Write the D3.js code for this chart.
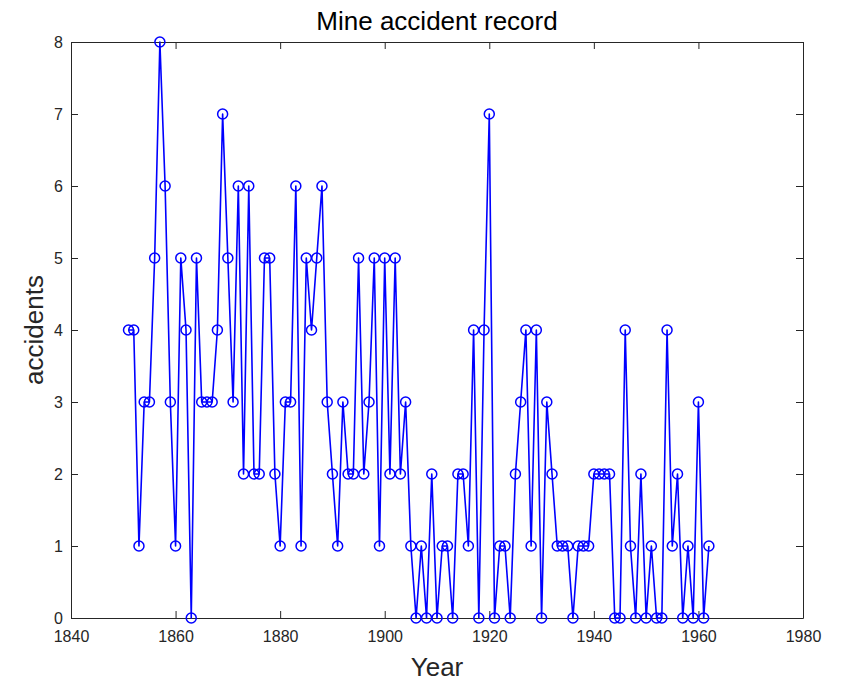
<!DOCTYPE html>
<html>
<head>
<meta charset="utf-8">
<script src="https://cdn.jsdelivr.net/npm/d3@7"></script>
<style>
    body { margin: 0; background: #fff; }
    svg text { font-family: "Liberation Sans", Arial, Helvetica, sans-serif; }
</style>
</head>
<body>
<svg id="chart" width="853" height="682"></svg>
<script>
// yearly counts, 1851..1962
var firstYear = 1851;
var accidents = [
    4, 4, 1, 3, 3, 5, 8, 6, 3, 1,   // 1851-1860
    5, 4, 0, 5, 3, 3, 3, 4, 7, 5,   // 1861-1870
    3, 6, 2, 6, 2, 2, 5, 5, 2, 1,   // 1871-1880
    3, 3, 6, 1, 5, 4, 5, 6, 3, 2,   // 1881-1890
    1, 3, 2, 2, 5, 2, 3, 5, 1, 5,   // 1891-1900
    2, 5, 2, 3, 1, 0, 1, 0, 2, 0,   // 1901-1910
    1, 1, 0, 2, 2, 1, 4, 0, 4, 7,   // 1911-1920
    0, 1, 1, 0, 2, 3, 4, 1, 4, 0,   // 1921-1930
    3, 2, 1, 1, 1, 0, 1, 1, 1, 2,   // 1931-1940
    2, 2, 2, 0, 0, 4, 1, 0, 2, 0,   // 1941-1950
    1, 0, 0, 4, 1, 2, 0, 1, 0, 3,   // 1951-1960
    0, 1                            // 1961-1962
];
var years = accidents.map(function (d, i) { return firstYear + i; });

var xTicks = [1840, 1860, 1880, 1900, 1920, 1940, 1960, 1980];
var yTicks = [0, 1, 2, 3, 4, 5, 6, 7, 8];

var titleText = "Mine accident record";
var xLabel = "Year";
var yLabel = "accidents";

var margin = {left: 71, top: 42, right: 50, bottom: 64};
var width = 853 - margin.left - margin.right;
var height = 682 - margin.top - margin.bottom;
var axisColor = "#262626";

var svg = d3.select("#chart");
var g = svg.append("g").attr("transform", "translate(" + margin.left + "," + margin.top + ")");

var x = d3.scaleLinear().domain([1840, 1980]).range([0, width]);
var y = d3.scaleLinear().domain([0, 8]).range([height, 0]);

// axes: ticks point inward, mirrored on top and right
var axisB = g.append("g").attr("transform", "translate(0," + height + ")")
    .call(d3.axisBottom(x).tickValues(xTicks).tickFormat(d3.format("d")).tickSizeInner(-7).tickSizeOuter(0).tickPadding(13));
var axisL = g.append("g")
    .call(d3.axisLeft(y).tickValues(yTicks).tickSizeInner(-7).tickSizeOuter(0).tickPadding(8));
var axisT = g.append("g")
    .call(d3.axisTop(x).tickValues(xTicks).tickFormat("").tickSizeInner(-7).tickSizeOuter(0));
var axisR = g.append("g").attr("transform", "translate(" + width + ",0)")
    .call(d3.axisRight(y).tickValues(yTicks).tickFormat("").tickSizeInner(-7).tickSizeOuter(0));

[axisB, axisL, axisT, axisR].forEach(function (a) {
    a.select(".domain").attr("stroke", axisColor).attr("stroke-width", 1);
    a.selectAll(".tick line").attr("stroke", axisColor).attr("stroke-width", 1);
    a.selectAll(".tick text").attr("fill", axisColor).style("font-size", "16px");
});

// data line with circle markers
var line = d3.line()
    .x(function (d, i) { return x(years[i]); })
    .y(function (d) { return y(d); });

g.append("path")
    .datum(accidents)
    .attr("fill", "none")
    .attr("stroke", "#0000ff")
    .attr("stroke-width", 1.6)
    .attr("stroke-linejoin", "round")
    .attr("d", line);

g.selectAll("circle.marker")
    .data(accidents)
    .enter().append("circle")
    .classed("marker", true)
    .attr("cx", function (d, i) { return x(years[i]); })
    .attr("cy", function (d) { return y(d); })
    .attr("r", 5)
    .attr("fill", "none")
    .attr("stroke", "#0000ff")
    .attr("stroke-width", 1.5);

// labels
svg.append("text")
    .attr("x", margin.left + width / 2)
    .attr("y", 30)
    .attr("text-anchor", "middle")
    .attr("fill", "#000")
    .style("font-size", "26px")
    .text(titleText);

svg.append("text")
    .attr("x", margin.left + width / 2)
    .attr("y", 676)
    .attr("text-anchor", "middle")
    .attr("fill", axisColor)
    .style("font-size", "26px")
    .text(xLabel);

svg.append("text")
    .attr("transform", "translate(43," + (margin.top + height / 2) + ") rotate(-90)")
    .attr("text-anchor", "middle")
    .attr("fill", axisColor)
    .style("font-size", "26px")
    .text(yLabel);
</script>
</body>
</html>
